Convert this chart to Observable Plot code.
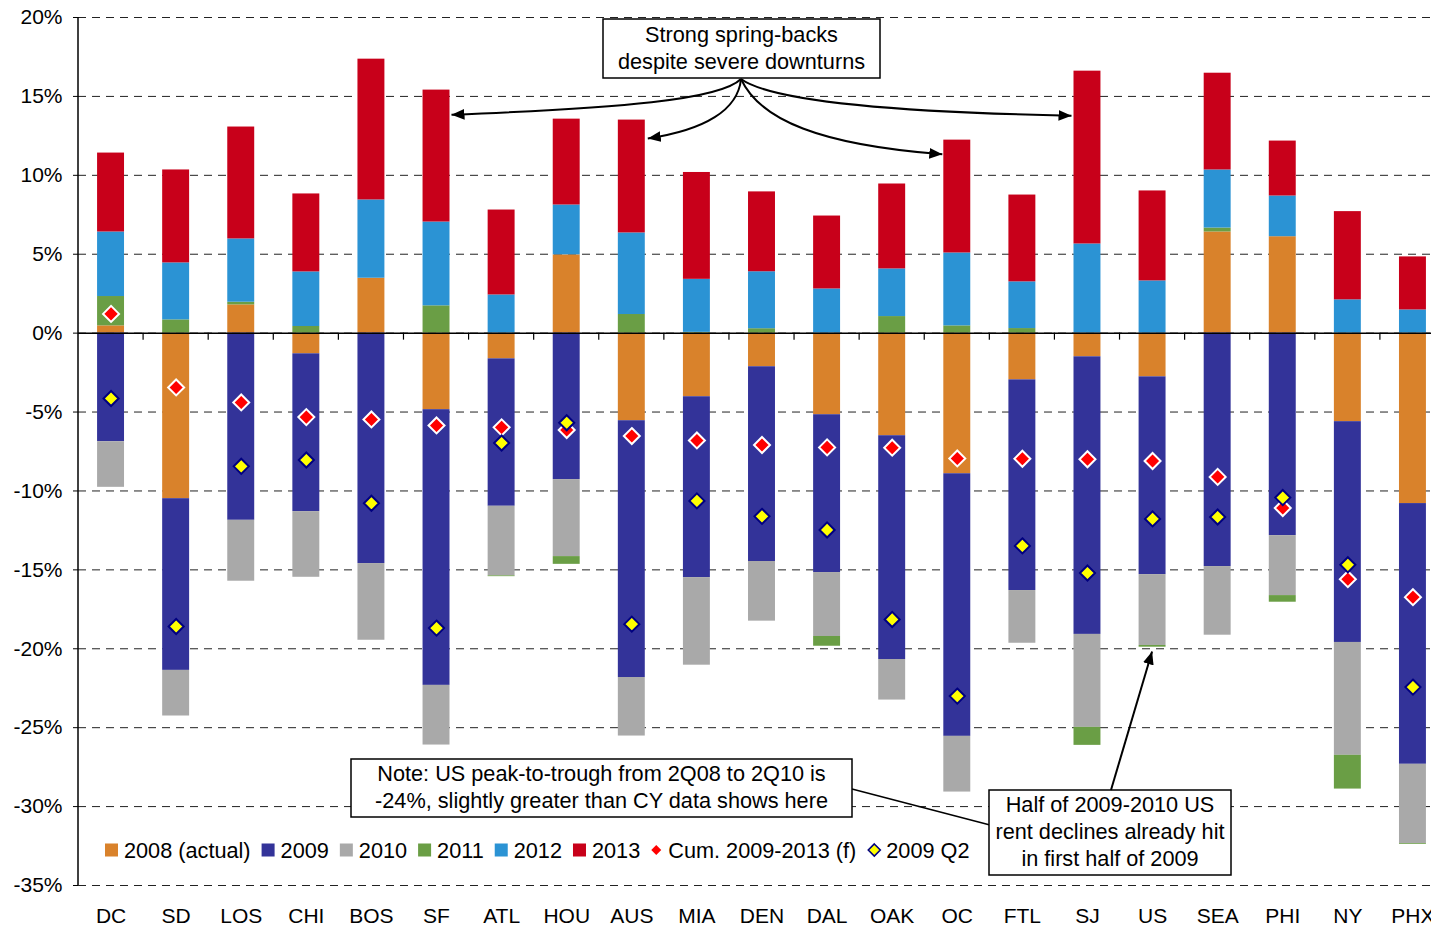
<!DOCTYPE html>
<html>
<head>
<meta charset="utf-8">
<script src="https://cdn.jsdelivr.net/npm/d3@7"></script>
<script src="https://cdn.jsdelivr.net/npm/@observablehq/plot@0.6"></script>
<style>
  html, body { margin: 0; padding: 0; background: #fff; overflow: hidden; }
  #chart svg { display: block; max-width: none !important; height: 928px !important; }
</style>
</head>
<body>
<div id="chart"></div>
<script>
// Metro areas, sorted by cumulative 2009-2013 rent change
const cities = ["DC","SD","LOS","CHI","BOS","SF","ATL","HOU","AUS","MIA","DEN","DAL","OAK","OC","FTL","SJ","US","SEA","PHI","NY","PHX"];

// Annual rent change (%) by year
const years = ["2008 (actual)","2009","2010","2011","2012","2013"];
const y2008 = [0.46,-10.49,1.79,-1.31,3.48,-4.85,-1.63,4.96,-5.55,-4.03,-2.13,-5.17,-6.5,-8.91,-2.96,-1.5,-2.77,6.41,6.11,-5.61,-10.8];
const y2009 = [-6.88,-10.88,-11.86,-10.0,-14.6,-17.47,-9.34,-9.28,-16.27,-11.46,-12.34,-10.0,-14.18,-16.64,-13.35,-17.59,-12.53,-14.79,-12.83,-13.99,-16.52];
const y2010 = [-2.89,-2.89,-3.86,-4.16,-4.86,-3.78,-4.41,-4.88,-3.71,-5.55,-3.78,-4.05,-2.57,-3.53,-3.34,-5.89,-4.49,-4.35,-3.8,-7.15,-5.02];
const y2011 = [1.86,0.84,0.17,0.42,0,1.73,-0.05,-0.49,1.18,0.05,0.28,-0.62,1.05,0.46,0.29,-1.14,-0.11,0.25,-0.42,-2.14,-0.05];
const y2012 = [4.09,3.61,4.01,3.46,4.96,5.31,2.42,3.16,5.17,3.36,3.61,2.8,3.02,4.62,2.96,5.65,3.31,3.68,2.58,2.11,1.47];
const y2013 = [5.0,5.89,7.09,4.94,8.92,8.36,5.38,5.44,7.15,6.77,5.06,4.62,5.38,7.15,5.5,10.95,5.7,6.13,3.48,5.59,3.36];

// Cumulative 2009-2013 forecast and 2009 Q2 markers (%)
const cum = [1.22,-3.44,-4.39,-5.32,-5.47,-5.85,-5.97,-6.14,-6.52,-6.8,-7.09,-7.24,-7.26,-7.94,-7.96,-7.99,-8.1,-9.11,-11.08,-15.59,-16.73];
const q2 = [-4.14,-18.59,-8.44,-8.04,-10.78,-18.69,-6.96,-5.68,-18.44,-10.63,-11.61,-12.47,-18.14,-23.0,-13.48,-15.2,-11.77,-11.65,-10.42,-14.68,-22.43];

const yTicks = [-35,-30,-25,-20,-15,-10,-5,0,5,10,15,20];
const colors = ["#D9822B","#333399","#A9A9A9","#6A9E45","#2B93D4","#C8001A"];

const series = [y2008, y2009, y2010, y2011, y2012, y2013];
const rows = [];
cities.forEach((c, i) => series.forEach((arr, j) => {
  if (arr[i] !== 0) rows.push({city: c, year: years[j], value: arr[i]});
}));
const points = cities.map((c, i) => ({city: c, cum: cum[i], q2: q2[i]}));

const font = '"Liberation Sans", Arial, sans-serif';
const W = 1445, H = 928, ML = 78, MT = 17, MB = 43;
const noteSize = 21.7;

const chart = Plot.plot({
  width: W, height: H,
  marginLeft: ML, marginRight: 0, marginTop: MT, marginBottom: MB,
  style: {fontFamily: font, fontSize: "21px", color: "#000", background: "#fff"},
  x: {domain: cities, paddingInner: 0.586, paddingOuter: 0.293, round: false, label: null},
  y: {domain: [-35, 20], label: null},
  color: {domain: years, range: colors},
  marks: [
    Plot.gridY(yTicks, {stroke: "#222", strokeOpacity: 1, strokeDasharray: "8,6"}),
    Plot.barY(rows, {x: "city", y: "value", fill: "year"}),
    Plot.ruleY([0], {stroke: "#000", strokeWidth: 1.5}),
    Plot.dot(points, {x: "city", y: "cum", symbol: "diamond2", r: 7.2, fill: "#FF0000", stroke: "#fff", strokeWidth: 2}),
    Plot.dot(points, {x: "city", y: "q2", symbol: "diamond2", r: 6.8, fill: "#FFFF00", stroke: "#000080", strokeWidth: 2}),
    Plot.axisY(yTicks, {tickSize: 5, tickPadding: 11, tickFormat: d => d + "%", fontSize: 21}),
    Plot.axisX({tickSize: 0, tickPadding: 23, fontSize: 21})
  ]
});
document.getElementById("chart").appendChild(chart);

// ---- extra decoration: axis line, category ticks, legend, call-outs ----
const svg = d3.select(chart);
const xs = chart.scale("x"), ys = chart.scale("y");
const step = xs.apply(cities[1]) - xs.apply(cities[0]);
const bw = xs.bandwidth;
const y0 = ys.apply(0);

const deco = svg.append("g").attr("font-family", font).attr("font-size", noteSize).attr("text-anchor", "start");

// value axis line
deco.append("line").attr("x1", ML).attr("x2", ML).attr("y1", MT).attr("y2", H - MB)
  .attr("stroke", "#000").attr("stroke-width", 1.5);

// category boundary ticks on the zero line
cities.forEach(c => {
  const bx = xs.apply(c) + bw + (step - bw) / 2;
  deco.append("line").attr("x1", bx).attr("x2", bx).attr("y1", y0).attr("y2", y0 + 7)
    .attr("stroke", "#000").attr("stroke-width", 1.2);
});

// legend
const legend = deco.append("g");
const ly = 850;
let lx = 105;
const diamond = (g, cx, cy, h, fill, stroke, sw) =>
  g.append("path").attr("d", `M${cx},${cy - h}L${cx + h},${cy}L${cx},${cy + h}L${cx - h},${cy}Z`)
    .attr("fill", fill).attr("stroke", stroke).attr("stroke-width", sw);
const legendItems = years.map((y, i) => ({kind: "swatch", color: colors[i], label: y}))
  .concat([{kind: "cum", label: "Cum. 2009-2013 (f)"}, {kind: "q2", label: "2009 Q2"}]);
legendItems.forEach(item => {
  let tx;
  if (item.kind === "swatch") {
    legend.append("rect").attr("x", lx).attr("y", ly - 6.5).attr("width", 13).attr("height", 13).attr("fill", item.color);
    tx = lx + 19;
  } else if (item.kind === "cum") {
    diamond(legend, lx + 5, ly, 5, "#FF0000", "none", 0);
    tx = lx + 17;
  } else {
    diamond(legend, lx + 7, ly, 6, "#FFFF00", "#000080", 1.6);
    tx = lx + 19;
  }
  const t = legend.append("text").attr("x", tx).attr("y", ly).attr("dy", "0.35em")
    .attr("text-anchor", "start").attr("fill", "#000").text(item.label);
  lx = tx + t.node().getComputedTextLength() + 11;
});

// arrow head marker
svg.append("defs").append("marker")
  .attr("id", "arrowhead").attr("markerUnits", "userSpaceOnUse")
  .attr("viewBox", "0 0 12 10").attr("refX", 12).attr("refY", 5)
  .attr("markerWidth", 13).attr("markerHeight", 11).attr("orient", "auto")
  .append("path").attr("d", "M0,0L12,5L0,10Z").attr("fill", "#000");

const note = deco.append("g");
const box = (x, y, w, h, lines, lineH, firstY) => {
  note.append("rect").attr("x", x).attr("y", y).attr("width", w).attr("height", h)
    .attr("fill", "#fff").attr("stroke", "#000").attr("stroke-width", 1.5);
  lines.forEach((s, i) => note.append("text").attr("x", x + w / 2).attr("y", firstY + i * lineH)
    .attr("dy", "0.35em").attr("text-anchor", "middle").attr("fill", "#000").text(s));
};
const arrow = d => note.append("path").attr("d", d).attr("fill", "none").attr("stroke", "#000")
  .attr("stroke-width", 2).attr("marker-end", "url(#arrowhead)");

// spring-back call-out
box(603, 19, 277, 59, ["Strong spring-backs", "despite severe downturns"], 27, 34);
const ox = 741, oy = 79;
const ax = c => xs.apply(c), ay = v => ys.apply(v);
arrow(`M${ox},${oy}C720,100 620,108 ${ax("SF") + bw + 2},${ay(13.8)}`);
arrow(`M${ox},${oy}C738,110 705,130 ${ax("AUS") + bw + 3},${ay(12.3)}`);
arrow(`M${ox},${oy}C760,120 820,145 ${ax("OC") - 1},${ay(11.3)}`);
arrow(`M${ox},${oy}C770,100 880,112 ${ax("SJ") - 2},${ay(13.75)}`);

// peak-to-trough note with connector
note.append("line").attr("x1", 852).attr("y1", 789).attr("x2", 990).attr("y2", 825)
  .attr("stroke", "#000").attr("stroke-width", 1.5);
box(351, 759, 501, 58, ["Note: US peak-to-trough from 2Q08 to 2Q10 is", "-24%, slightly greater than CY data shows here"], 27, 773);

// half-of-declines call-out
box(989, 790, 242, 85, ["Half of 2009-2010 US", "rent declines already hit", "in first half of 2009"], 27, 804);
arrow(`M1111,790L${ax("US") + bw / 2},${ay(-20.2)}`);
</script>
</body>
</html>
